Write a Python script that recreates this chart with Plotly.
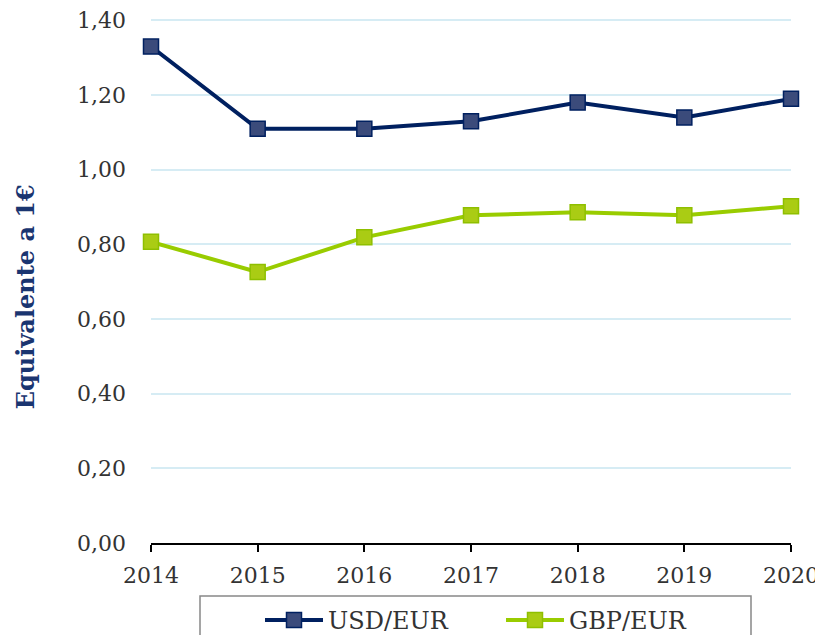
import plotly.graph_objects as go

years = [2014, 2015, 2016, 2017, 2018, 2019, 2020]
usd_eur = [1.33, 1.11, 1.11, 1.13, 1.18, 1.14, 1.19]
gbp_eur = [0.807, 0.726, 0.819, 0.878, 0.886, 0.878, 0.902]
y_ticks = [0, 0.2, 0.4, 0.6, 0.8, 1.0, 1.2, 1.4]
y_ticktext = ["0,00", "0,20", "0,40", "0,60", "0,80", "1,00", "1,20", "1,40"]

FONT = "DejaVu Serif"
OFF = 8  # page body margin
Y_TOP = 1.42
SCALE = (543 - 20) / 1.4  # px per unit
W, H = 823 - OFF, 635 - OFF
L, R, B = 151 - OFF, 32, 92
T = (543 - Y_TOP * SCALE) - OFF
pw, ph = W - L - R, H - T - B

def px_x(x):
    return (x - OFF - L) / pw

def px_y(y):
    return (H - B - (y - OFF)) / ph

fig = go.Figure()
fig.add_trace(go.Scatter(
    x=years, y=usd_eur, name="USD/EUR", mode="lines+markers",
    line=dict(color="#002060", width=4),
    marker=dict(symbol="square", size=15, color="#3b4b7b", line=dict(color="#002060", width=1.5)),
    cliponaxis=False,
))
fig.add_trace(go.Scatter(
    x=years, y=gbp_eur, name="GBP/EUR", mode="lines+markers",
    line=dict(color="#99cc00", width=4),
    marker=dict(symbol="square", size=15, color="#aacc14", line=dict(color="#8fbf00", width=1.5)),
    cliponaxis=False,
))

fig.update_layout(
    width=W, height=H,
    margin=dict(l=L, r=R, t=T, b=B, autoexpand=False),
    plot_bgcolor="white", paper_bgcolor="white",
    font=dict(family=FONT, size=21, color="#333333"),
    showlegend=True,
    legend=dict(
        orientation="h", x=px_x(260), xanchor="left", y=px_y(598), yanchor="top",
        itemwidth=58, entrywidth=168, bgcolor="rgba(0,0,0,0)",
        font=dict(family=FONT, size=24, color="#333333"),
        tracegroupgap=0,
    ),
    shapes=[dict(
        type="rect", xref="paper", yref="paper",
        x0=px_x(200), x1=px_x(751), y0=px_y(596), y1=px_y(660),
        line=dict(color="#888888", width=1.5), fillcolor="rgba(0,0,0,0)", layer="below",
    )],
    annotations=[dict(
        text="<b>Equivalente a 1€</b>", textangle=-90,
        xref="paper", yref="paper", x=px_x(25), y=px_y(297),
        xanchor="center", yanchor="middle", showarrow=False,
        font=dict(family=FONT, size=24, color="#1a3570"),
    )],
)
fig.update_xaxes(
    range=[2014, 2020], tickvals=years, ticktext=[str(y) for y in years],
    showgrid=False, showline=True, linecolor="#000000", linewidth=2,
    ticks="outside", ticklen=7, tickwidth=2, tickcolor="#000000",
    zeroline=False, fixedrange=True, ticklabelstandoff=5,
    tickfont=dict(size=22),
)
fig.update_yaxes(
    range=[0, Y_TOP], tickvals=y_ticks, ticktext=y_ticktext,
    showgrid=True, gridcolor="#d6ecf4", gridwidth=2,
    showline=False, zeroline=False, ticks="", ticklabelstandoff=24,
    tickfont=dict(size=22),
)
fig.write_html("out.html")
